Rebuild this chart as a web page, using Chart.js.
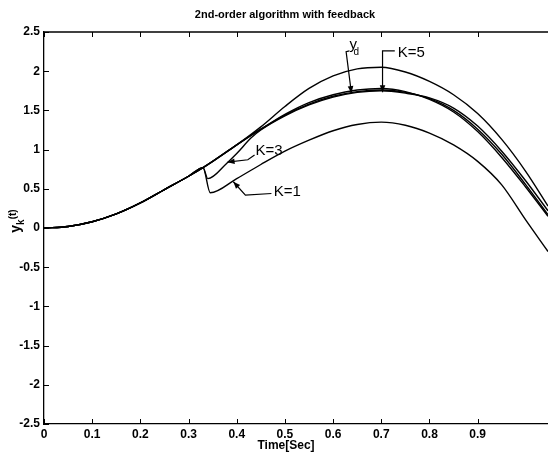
<!DOCTYPE html>
<html><head><meta charset="utf-8">
<script src="https://cdn.jsdelivr.net/npm/chart.js@4.4.1/dist/chart.umd.min.js"></script>
<style>html,body{margin:0;padding:0;background:#fff;overflow:hidden}canvas{display:block}</style>
</head><body>
<canvas id="c" width="548" height="460"></canvas>
<script>
// ---- tick labels ----
const xTickValues = [0, 0.1, 0.2, 0.3, 0.4, 0.5, 0.6, 0.7, 0.8, 0.9];
const yTickValues = [-2.5, -2, -1.5, -1, -0.5, 0, 0.5, 1, 1.5, 2, 2.5];

// ---- shared start of every response (t <= 0.33) ----
const tCommon = [0, 0.05, 0.1, 0.15, 0.2, 0.25, 0.3, 0.33];
const yCommon = [0, 0.02, 0.08, 0.18, 0.32, 0.49, 0.66, 0.77];

// ---- time grid after the split ----
const tTail = [0.35, 0.4, 0.45, 0.5, 0.55, 0.6, 0.65, 0.7, 0.75, 0.8, 0.85, 0.9, 0.95, 1.0, 1.046];

// ---- series values ----
const yTop      = [0.85, 1.06, 1.29, 1.55, 1.78, 1.94, 2.03, 2.05, 1.99, 1.87, 1.70, 1.46, 1.13, 0.72, 0.28];
const yDesired  = [0.85, 1.06, 1.26, 1.44, 1.58, 1.68, 1.74, 1.76, 1.73, 1.65, 1.50, 1.26, 0.94, 0.55, 0.17];
const yK5       = [0.85, 1.06, 1.26, 1.45, 1.60, 1.70, 1.76, 1.78, 1.74, 1.64, 1.48, 1.23, 0.90, 0.52, 0.15];

const tK3 = [0.34, 0.38, 0.4, 0.43, 0.45, 0.5, 0.55, 0.6, 0.65, 0.7, 0.75, 0.8, 0.85, 0.9, 0.95, 1.0, 1.046];
const yK3 = [0.63, 0.83, 0.95, 1.15, 1.25, 1.43, 1.57, 1.67, 1.73, 1.75, 1.72, 1.66, 1.53, 1.30, 0.98, 0.60, 0.22];

const tK1 = [0.345, 0.4, 0.45, 0.5, 0.55, 0.6, 0.65, 0.7, 0.75, 0.8, 0.85, 0.9, 0.95, 1.0, 1.046];
const yK1 = [0.45, 0.63, 0.81, 0.98, 1.12, 1.24, 1.32, 1.35, 1.31, 1.21, 1.06, 0.85, 0.55, 0.10, -0.30];

function build(tA, yA) {
  const pts = tCommon.map((t, i) => ({x: t, y: yCommon[i]}));
  tA.forEach((t, i) => pts.push({x: t, y: yA[i]}));
  return pts;
}
function ds(label, pts) {
  return {label, data: pts, borderColor: '#000', borderWidth: 1.4, pointRadius: 0,
          cubicInterpolationMode: 'monotone', fill: false};
}

const datasets = [
  ds('upper', build(tTail, yTop)),
  ds('y_d', build(tTail, yDesired)),
  ds('K=5', build(tTail, yK5)),
  ds('K=3', build(tK3, yK3)),
  ds('K=1', build(tK1, yK1))
];

const FONT = '"Liberation Sans", Arial, sans-serif';

function arrowPath(ctx, pts) {
  ctx.beginPath();
  ctx.moveTo(pts[0][0], pts[0][1]);
  for (let i = 1; i < pts.length; i++) ctx.lineTo(pts[i][0], pts[i][1]);
  ctx.stroke();
  const [bx, by] = pts[pts.length - 1], [ax, ay] = pts[pts.length - 2];
  const ang = Math.atan2(by - ay, bx - ax), L = 7, W = 2.8;
  ctx.beginPath();
  ctx.moveTo(bx, by);
  ctx.lineTo(bx - L * Math.cos(ang) + W * Math.sin(ang), by - L * Math.sin(ang) - W * Math.cos(ang));
  ctx.lineTo(bx - L * Math.cos(ang) - W * Math.sin(ang), by - L * Math.sin(ang) + W * Math.cos(ang));
  ctx.closePath();
  ctx.fill();
}

const decor = {
  id: 'decor',
  afterDraw(chart) {
    const {ctx, chartArea: a, scales: {x, y}} = chart;
    const P = (t, v) => [x.getPixelForValue(t), y.getPixelForValue(v)];
    ctx.save();
    ctx.strokeStyle = '#000'; ctx.fillStyle = '#000';
    // top frame
    ctx.lineWidth = 1.3;
    ctx.beginPath(); ctx.moveTo(a.left, a.top); ctx.lineTo(a.right, a.top); ctx.stroke();
    // inward ticks
    ctx.lineWidth = 1;
    ctx.beginPath();
    xTickValues.forEach(v => {
      const px = Math.round(x.getPixelForValue(v)) + 0.5;
      ctx.moveTo(px, a.bottom); ctx.lineTo(px, a.bottom - 5);
      ctx.moveTo(px, a.top); ctx.lineTo(px, a.top + 5);
    });
    yTickValues.forEach(v => {
      const py = Math.round(y.getPixelForValue(v)) + 0.5;
      ctx.moveTo(a.left, py); ctx.lineTo(a.left + 5, py);
    });
    ctx.stroke();

    // title and x title
    ctx.textAlign = 'center'; ctx.textBaseline = 'middle';
    ctx.font = 'bold 11px ' + FONT;
    ctx.fillText('2nd-order algorithm with feedback', 285, 15);
    ctx.font = 'bold 12px ' + FONT;
    ctx.fillText('Time[Sec]', 286, 446);

    // y title
    ctx.save();
    ctx.translate(17, 221);
    ctx.rotate(-Math.PI / 2);
    ctx.textAlign = 'left'; ctx.textBaseline = 'alphabetic';
    ctx.font = 'bold 14px ' + FONT;
    const w1 = ctx.measureText('y').width;
    ctx.font = 'bold 10px ' + FONT;
    const w2 = ctx.measureText('k').width;
    const w3 = ctx.measureText('(t)').width;
    const x0 = -(w1 + w2 + w3) / 2;
    ctx.font = 'bold 14px ' + FONT;
    ctx.fillText('y', x0, 3);
    ctx.font = 'bold 10px ' + FONT;
    ctx.fillText('k', x0 + w1, 7);
    ctx.fillText('(t)', x0 + w1 + w2, -1);
    ctx.restore();

    // annotations
    ctx.lineWidth = 1.2;
    ctx.textAlign = 'left'; ctx.textBaseline = 'middle';
    // y_d
    arrowPath(ctx, [P(0.634, 2.26), P(0.627, 2.25), P(0.638, 1.72)]);
    const [ydx, ydy] = P(0.634, 2.33);
    ctx.font = '15px ' + FONT;
    ctx.fillText('y', ydx, ydy);
    ctx.font = '10px ' + FONT;
    ctx.fillText('d', ydx + 4, ydy + 7);
    // K=5
    ctx.font = '15px ' + FONT;
    arrowPath(ctx, [P(0.728, 2.26), P(0.7026, 2.26), P(0.7026, 1.73)]);
    ctx.fillText('K=5', ...P(0.734, 2.24));
    // K=3
    arrowPath(ctx, [P(0.437, 0.93), P(0.423, 0.87), P(0.381, 0.84)]);
    ctx.fillText('K=3', ...P(0.439, 0.98));
    // K=1
    arrowPath(ctx, [P(0.472, 0.44), P(0.418, 0.42), P(0.393, 0.59)]);
    ctx.fillText('K=1', ...P(0.477, 0.46));
    ctx.restore();
  }
};

new Chart(document.getElementById('c'), {
  type: 'line',
  data: {datasets},
  plugins: [decor],
  options: {
    responsive: false,
    animation: false,
    devicePixelRatio: 1,
    layout: {padding: {top: 32, right: 0, left: 0, bottom: 0}},
    plugins: {legend: {display: false}, tooltip: {enabled: false}, title: {display: false}},
    scales: {
      x: {
        type: 'linear', min: 0, max: 1.046,
        afterBuildTicks: s => { s.ticks = xTickValues.map(v => ({value: v})); },
        afterFit: s => { s.height = 36; },
        grid: {display: false, drawTicks: false},
        border: {display: true, color: '#000', width: 1.3},
        ticks: {color: '#000', font: {family: FONT, size: 12, weight: 'bold'}, padding: 3,
                maxRotation: 0, autoSkip: false, callback: v => String(v)}
      },
      y: {
        type: 'linear', min: -2.5, max: 2.5,
        afterBuildTicks: s => { s.ticks = yTickValues.map(v => ({value: v})); },
        afterFit: s => { s.width = 44; },
        grid: {display: false, drawTicks: false},
        border: {display: true, color: '#000', width: 1.3},
        ticks: {color: '#000', font: {family: FONT, size: 12, weight: 'bold'}, padding: 4,
                autoSkip: false, callback: v => String(v)}
      }
    }
  }
});
</script>
</body></html>
